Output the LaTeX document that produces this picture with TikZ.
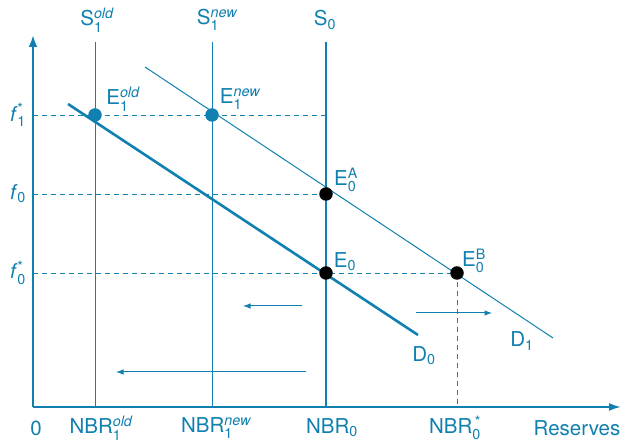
\documentclass[tikz,border=0pt]{standalone}
\usepackage{amsmath}
\usepackage{fontspec}
\setmainfont{TeX Gyre Heros}
\usepackage{xcolor}
\usepackage{tikz}
\usetikzlibrary{arrows.meta}
\definecolor{AzulReserva}{RGB}{16,128,176}

\begin{document}
\begin{tikzpicture}[>=Latex,x=1pt,y=-1pt,
    every node/.style={text=AzulReserva,font=\fontsize{20.5}{24}\selectfont},
    fino/.style={AzulReserva,line width=1pt},
    grueso/.style={AzulReserva,line width=2.6pt},
    guion/.style={AzulReserva,line width=0.9pt,dash pattern=on 5pt off 4pt},
    punto/.style={circle,inner sep=0pt,minimum size=13.5pt}]
  \useasboundingbox (0,0) rectangle (622,443);
  % ejes
  \draw[grueso,-{Latex[length=12pt,width=9pt]}] (33,407)--(33,35);
  \draw[AzulReserva,line width=2pt,-{Latex[length=12pt,width=8pt]}] (33,407)--(621,407);
  % lineas guia
  \draw[guion] (33,115)--(326,115);
  \draw[guion] (33,194)--(326,194);
  \draw[guion] (33,273)--(457,273);
  \draw[guion] (457,273)--(457,407);
  % ofertas
  \draw[fino] (95,42)--(95,407);
  \draw[fino] (212,42)--(212,407);
  \draw[grueso] (326,42)--(326,407);
  % demandas
  \draw[grueso] (68,104)--(418,335);
  \draw[fino] (145,67)--(553,338);
  % desplazamientos
  \draw[fino,->] (302,306)--(243,306);
  \draw[fino,->] (306,372)--(116,372);
  \draw[fino,->] (416,313)--(492,313);
  % equilibrios
  \node[punto,fill=AzulReserva] (e1old) at (95,115) {};
  \node[punto,fill=AzulReserva] (e1new) at (212,115) {};
  \node[punto,fill=black] (e0a) at (326,194) {};
  \node[punto,fill=black] (e0) at (326,273) {};
  \node[punto,fill=black] (e0b) at (457,273) {};
  \node (le1old) at (123,99) {E$_{\text{1}}^{\text{\itshape old}}$};
  \node (le1new) at (240,99) {E$_{\text{1}}^{\text{\itshape new}}$};
  \node (le0a) at (346,180) {E$_{\text{0}}^{\text{A}}$};
  \node (le0) at (345,262) {E$_{\text{0}}$};
  \node (le0b) at (474,261) {E$_{\text{0}}^{\text{B}}$};
  % etiquetas de curvas
  \node (ls1old) at (97,20) {S$_{\text{1}}^{\text{\itshape old}}$};
  \node (ls1new) at (217,20) {S$_{\text{1}}^{\text{\itshape new}}$};
  \node (ls0) at (325,20) {S$_{\text{0}}$};
  \node (ld0) at (424,356) {D$_{\text{0}}$};
  \node (ld1) at (522,341) {D$_{\text{1}}$};
  % eje vertical
  \node (lf1) at (18,115) {\textit{f}$_{\text{1}}^{\text{*}}$};
  \node (lf0) at (18,194) {\textit{f}$_{\text{0}}$};
  \node (lf0s) at (18,273) {\textit{f}$_{\text{0}}^{\text{*}}$};
  % eje horizontal
  \node (lcero) at (36,428) {0};
  \node (lnbrold) at (101,428) {NBR$_{\text{1}}^{\text{\itshape old}}$};
  \node (lnbrnew) at (216,428) {NBR$_{\text{1}}^{\text{\itshape new}}$};
  \node (lnbr0) at (332,428) {NBR$_{\text{0}}$};
  \node (lnbrs) at (455,428) {NBR$_{\text{0}}^{\,\text{*}}$};
  \node (lres) at (577,428) {Reserves};
\end{tikzpicture}
\end{document}
